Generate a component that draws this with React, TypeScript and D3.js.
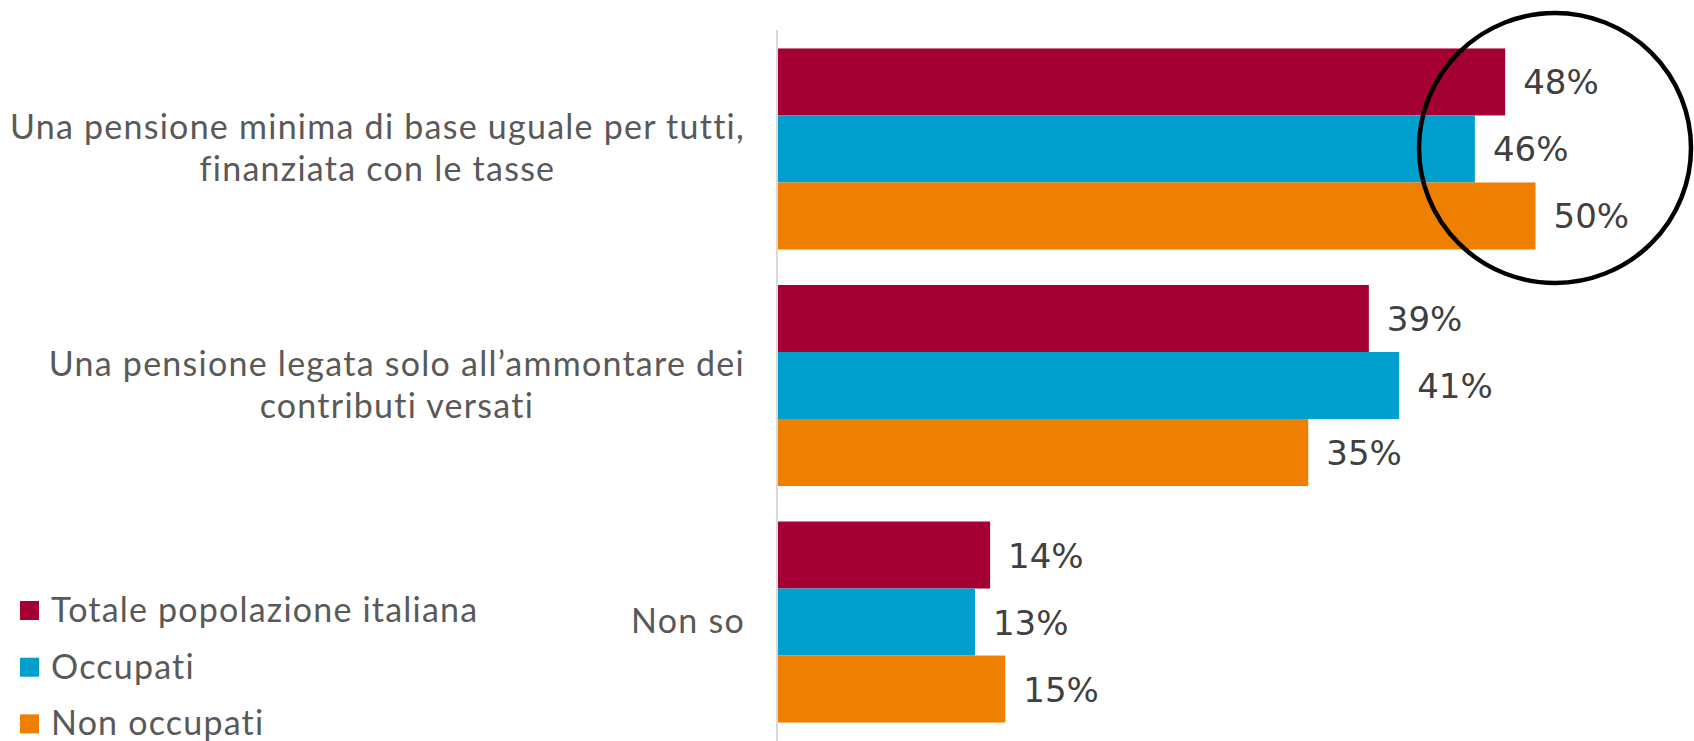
import { useEffect, useRef } from "react";
import * as d3 from "d3";

// categories (multi-line labels), series and values
const categories = [
  ["Una pensione minima di base uguale per tutti,", "finanziata con le tasse"],
  ["Una pensione legata solo all’ammontare dei", "contributi versati"],
  ["Non so"],
];
const seriesNames = ["Totale popolazione italiana", "Occupati", "Non occupati"];
const totale = [48, 39, 14];
const occupati = [46, 41, 13];
const nonOccupati = [50, 35, 15];
const seriesColors = ["#A50034", "#009FCE", "#EE7F00"];

const W = 1694;
const H = 741;

export default function App() {
  const ref = useRef<SVGSVGElement>(null);

  useEffect(() => {
    document.body.style.margin = "0";
    const svg = d3.select(ref.current);
    svg.selectAll("*").remove();

    const series = [totale, occupati, nonOccupati];
    const axisX = 778;
    const x = d3.scaleLinear([0, 60], [axisX, axisX + 60 * 15.15]);
    const y = d3
      .scaleBand<number>(d3.range(categories.length), [30, H])
      .paddingInner(0.15)
      .paddingOuter(0.078);
    const yInner = d3
      .scaleBand<number>(d3.range(series.length), [0, y.bandwidth()])
      .padding(0);

    // vertical axis line
    svg
      .append("line")
      .attr("x1", axisX - 1)
      .attr("x2", axisX - 1)
      .attr("y1", 30)
      .attr("y2", H)
      .attr("stroke", "#D9D9D9")
      .attr("stroke-width", 2);

    const groups = svg
      .selectAll("g.cat")
      .data(categories)
      .join("g")
      .attr("class", "cat")
      .attr("transform", (_, i) => `translate(0,${y(i)})`);

    groups.each(function (_, ci) {
      const g = d3.select(this);
      series.forEach((vals, si) => {
        g.append("rect")
          .attr("x", x(0))
          .attr("y", yInner(si)!)
          .attr("width", x(vals[ci]) - x(0))
          .attr("height", yInner.bandwidth())
          .attr("fill", seriesColors[si]);
        g.append("text")
          .attr("x", x(vals[ci]) + 18)
          .attr("y", yInner(si)! + yInner.bandwidth() / 2 + 12.5)
          .attr("font-family", "'DejaVu Sans', sans-serif")
          .attr("font-size", 34)
          .attr("fill", "#404040")
          .text(vals[ci] + "%");
      });
    });

    // category labels: lines centred on each other, block right-aligned to 745
    const labelRight = 745;
    const lineGap = 42;
    categories.forEach((lines, ci) => {
      const cy = y(ci)! + y.bandwidth() / 2;
      const g = svg.append("g");
      const texts = lines.map((line, li) =>
        g
          .append("text")
          .attr("y", cy + 11 + (li - (lines.length - 1) / 2) * lineGap)
          .attr("font-family", "Lato, sans-serif")
          .attr("font-size", 34)
          .attr("letter-spacing", 1.25)
          .attr("fill", "#595959")
          .attr("text-anchor", "middle")
          .text(line)
      );
      const maxW = d3.max(texts, (t) => (t.node() as SVGTextElement).getComputedTextLength()) || 0;
      texts.forEach((t) => t.attr("x", labelRight - maxW / 2));
    });

    // legend
    const legend = svg
      .selectAll("g.leg")
      .data(seriesNames)
      .join("g")
      .attr("class", "leg")
      .attr("transform", (_, i) => `translate(20,${622 + i * 56.7})`);
    legend
      .append("rect")
      .attr("x", 0)
      .attr("y", -21)
      .attr("width", 19)
      .attr("height", 19)
      .attr("fill", (_, i) => seriesColors[i]);
    legend
      .append("text")
      .attr("x", 31)
      .attr("y", 0)
      .attr("font-family", "Lato, sans-serif")
      .attr("font-size", 34)
      .attr("letter-spacing", 1.2)
      .attr("fill", "#595959")
      .text((d) => d);

    // hand-drawn highlight circle around the first group
    svg
      .append("ellipse")
      .attr("cx", 1555)
      .attr("cy", 148)
      .attr("rx", 136)
      .attr("ry", 135)
      .attr("fill", "none")
      .attr("stroke", "#000")
      .attr("stroke-width", 4.5);
  }, []);

  return <svg ref={ref} width={W} height={H} style={{ display: "block", background: "#fff" }} />;
}
